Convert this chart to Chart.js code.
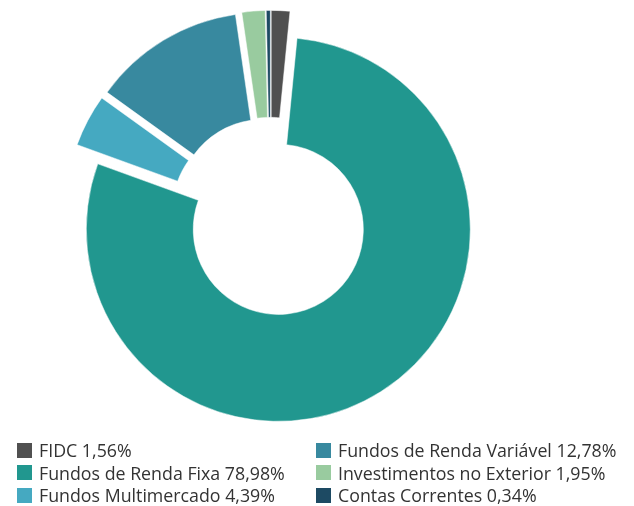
<!DOCTYPE html>
<html>
<head>
<meta charset="utf-8">
<script src="https://cdn.jsdelivr.net/npm/chart.js@4.4.1/dist/chart.umd.min.js"></script>
<style>
  html, body { margin: 0; padding: 0; background: #fff; }
  body { width: 634px; height: 506px; position: relative; overflow: hidden; font-family: "Open Sans", sans-serif; }
  #wrap { position: absolute; left: 0; top: 0; width: 541px; height: 458px; }
  #legenda { position: absolute; left: 17px; top: 439px; display: grid; grid-template-columns: 299px 300px; }
  .item { display: flex; align-items: center; height: 22.5px; font-size: 17.8px; color: #333; white-space: nowrap; }
  .item span.box { width: 15px; height: 15px; margin-right: 7px; flex: none; }
</style>
</head>
<body>
<div id="wrap"><canvas id="carteira"></canvas></div>
<div id="legenda"></div>
<script>
// dados da carteira (%), na ordem das fatias a partir do topo
var categorias = ['FIDC', 'Fundos de Renda Fixa', 'Fundos Multimercado', 'Fundos de Renda Variável', 'Investimentos no Exterior', 'Contas Correntes']
var valores = [1.56, 78.98, 4.39, 12.78, 1.95, 0.34]
var cores = ['#505050', '#21978f', '#45a9c1', '#38899f', '#99cb9f', '#1d4a63']
// ordem da legenda (duas colunas, linha a linha)
var ordem_legenda = [0, 3, 1, 4, 2, 5]

function formata(v){
    return v.toFixed(2).replace('.', ',') + '%'
}

// afasta cada fatia do centro sem mudar o raio (o offset do chart.js encolhe as fatias)
const afasta_fatias = {
    id: 'afasta_fatias',
    afterDatasetUpdate(chart, args, opts){
        args.meta.data.forEach(function(arc){
            let meio = (arc.startAngle + arc.endAngle) / 2
            arc.x += Math.cos(meio) * opts.distancia
            arc.y += Math.sin(meio) * opts.distancia
        })
    }
}

const ctx = document.getElementById('carteira').getContext('2d');
const myChart = new Chart(ctx, {
    type: 'doughnut',
    data: {
        labels: categorias,
        datasets: [{
            data: valores,
            backgroundColor: cores,
            borderColor: '#ffffff',
            borderWidth: 0.5,
            hoverOffset: 0,
            radius: 192,
            clip: false
        }]
    },
    options: {
        responsive: true,
        maintainAspectRatio: false,
        animation: false,
        cutout: '44.3%',
        layout: { padding: { top: 0, bottom: 24 } },
        plugins: {
            afasta_fatias: { distancia: 14.6 },
            legend: { display: false },
            tooltip: { enabled: false }
        }
    },
    plugins: [afasta_fatias]
});

// legenda em html
var legenda = document.getElementById('legenda')
ordem_legenda.forEach(function(i){
    let div = document.createElement('div')
    div.className = 'item'
    let box = document.createElement('span')
    box.className = 'box'
    box.style.background = cores[i]
    div.appendChild(box)
    div.appendChild(document.createTextNode(categorias[i] + ' ' + formata(valores[i])))
    legenda.appendChild(div)
})
</script>
</body>
</html>
